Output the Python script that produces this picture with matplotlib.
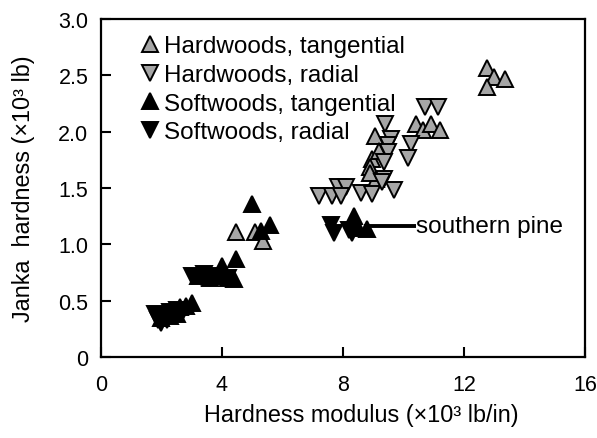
import matplotlib
matplotlib.use("Agg")
import matplotlib.pyplot as plt

plt.rcParams['font.family'] = ['Liberation Sans', 'DejaVu Sans']

# Hardwoods, tangential
hw_tan_x = [4.45, 5.1, 5.35, 9.05, 8.95, 8.9, 9.1, 8.9, 9.2, 10.4, 10.65, 10.9, 11.2, 12.75, 13.0, 13.35, 12.75]
hw_tan_y = [1.11, 1.11, 1.03, 1.96, 1.76, 1.69, 1.58, 1.63, 1.83, 2.07, 2.02, 2.07, 2.02, 2.57, 2.49, 2.47, 2.40]

# Hardwoods, radial
hw_rad_x = [7.2, 7.65, 7.85, 8.1, 7.95, 8.6, 8.95, 9.7, 9.35, 9.4, 9.6, 9.5, 9.5, 9.35, 10.25, 10.15, 10.7, 11.15, 9.3]
hw_rad_y = [1.43, 1.43, 1.51, 1.51, 1.43, 1.46, 1.45, 1.48, 1.58, 2.07, 1.94, 1.88, 1.82, 1.73, 1.89, 1.77, 2.22, 2.22, 1.55]

# Softwoods, tangential
sw_tan_x = [2.0, 2.2, 2.4, 2.6, 2.8, 3.0, 2.3, 2.5,
            3.2, 3.5, 3.8, 4.0, 4.2, 4.4, 3.6, 4.0, 4.45,
            5.0, 5.3, 5.6, 8.35, 8.8, 8.5]
sw_tan_y = [0.35, 0.40, 0.42, 0.44, 0.45, 0.48, 0.36, 0.38,
            0.72, 0.73, 0.72, 0.74, 0.70, 0.69, 0.70, 0.81, 0.87,
            1.36, 1.12, 1.17, 1.25, 1.14, 1.15]

# Softwoods, radial
sw_rad_x = [1.9, 2.0, 2.1, 2.3, 2.5, 2.7, 1.8, 2.2,
            3.0, 3.3, 3.6, 3.9, 3.4, 4.2,
            7.6, 7.7, 8.3, 8.2]
sw_rad_y = [0.33, 0.30, 0.36, 0.40, 0.42, 0.41, 0.38, 0.33,
            0.72, 0.71, 0.70, 0.72, 0.74, 0.70,
            1.17, 1.10, 1.10, 1.13]

x_ticks = [0, 4, 8, 12, 16]
y_ticks = [0, 0.5, 1.0, 1.5, 2.0, 2.5, 3.0]
y_tick_labels = ['0', '0.5', '1.0', '1.5', '2.0', '2.5', '3.0']

fig = plt.figure(figsize=(5.97, 4.39), dpi=100)
ax = fig.add_axes([0.169, 0.1845, 0.811, 0.7695])

gray = '#a6a6a6'
ms = 11
ew = 1.4
ax.plot(hw_tan_x, hw_tan_y, ls='none', marker='^', ms=ms, mfc=gray, mec='black', mew=ew,
        label='Hardwoods, tangential')
ax.plot(hw_rad_x, hw_rad_y, ls='none', marker='v', ms=ms, mfc=gray, mec='black', mew=ew,
        label='Hardwoods, radial')
ax.plot(sw_tan_x, sw_tan_y, ls='none', marker='^', ms=ms, mfc='black', mec='black', mew=ew,
        label='Softwoods, tangential')
ax.plot(sw_rad_x, sw_rad_y, ls='none', marker='v', ms=ms, mfc='black', mec='black', mew=ew,
        label='Softwoods, radial')

ax.plot([8.7, 10.4], [1.16, 1.16], color='black', lw=2.8, solid_capstyle='butt')
ax.text(10.42, 1.165, 'southern pine', fontsize=17.5, va='center', ha='left')

ax.set_xlim(0, 16)
ax.set_ylim(0, 3.0)
ax.set_xticks(x_ticks)
ax.set_xticklabels([str(t) for t in x_ticks])
ax.set_yticks(y_ticks)
ax.set_yticklabels(y_tick_labels)
ax.tick_params(direction='in', length=7, width=1.5, labelsize=15.5, top=False, right=False,
               colors='black')
ax.tick_params(axis='x', pad=12)
ax.tick_params(axis='y', pad=9)
for s in ax.spines.values():
    s.set_linewidth(1.6)

ax.set_xlabel('Hardness modulus (×10³ lb/in)', fontsize=16.8, labelpad=9)
ax.xaxis.set_label_coords(0.537, -0.135, transform=ax.transAxes)
ax.xaxis.label.set_va('top')
ax.set_ylabel('Janka  hardness (×10³ lb)', fontsize=16.8, labelpad=17)

leg = ax.legend(loc='upper left', frameon=False, fontsize=17.5, handletextpad=0.15,
                handlelength=0.85, borderaxespad=0.2, labelspacing=0.27, markerscale=1.0,
                bbox_to_anchor=(0.05, 0.995))

fig.savefig('out.png', dpi=100)
